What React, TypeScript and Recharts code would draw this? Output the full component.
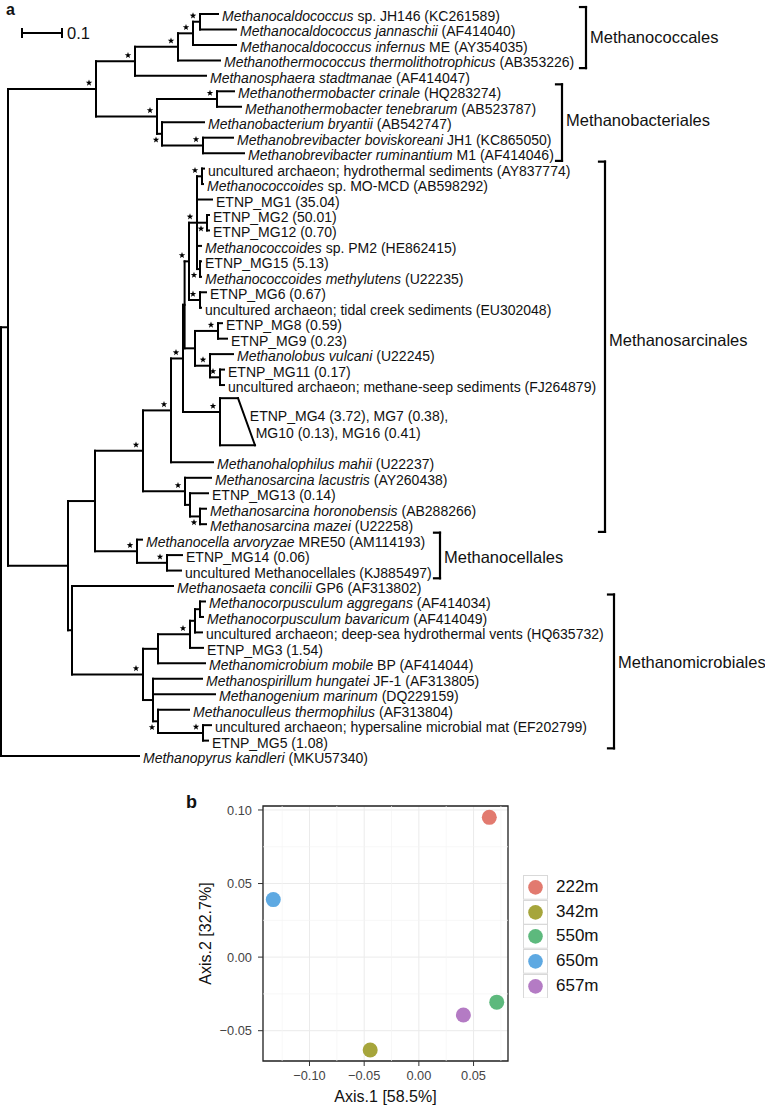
import React from 'react';
import {
  ScatterChart,
  Scatter,
  XAxis,
  YAxis,
  ReferenceLine,
  ReferenceArea,
  CartesianGrid,
  Legend,
} from 'recharts';

const FONT = '"Liberation Sans", Arial, Helvetica, sans-serif';

// ================= Panel a: phylogenetic tree =================
// Internal nodes: [id, parent, depth from root (substitutions / site)]
const TREE_NODES: [string, string | null, number][] = [
  ['R', null, 0],
  ['N1', 'R', 0.0175],
  ['N2', 'N1', 0.2375],
  ['N3', 'N2', 0.335],
  ['N4', 'N3', 0.4425],
  ['N5', 'N4', 0.48],
  ['N6', 'N5', 0.4975],
  ['N8', 'N2', 0.39],
  ['N9', 'N8', 0.54],
  ['N10', 'N8', 0.4025],
  ['N11', 'N10', 0.505],
  ['NA', 'N1', 0.1675],
  ['NB', 'NA', 0.235],
  ['NC', 'NB', 0.355],
  ['ND', 'NC', 0.425],
  ['NE', 'ND', 0.455],
  ['NEu', 'NE', 0.459],
  ['NF', 'NEu', 0.47],
  ['NH', 'NF', 0.49],
  ['P1', 'NH', 0.5025],
  ['P2', 'NH', 0.515],
  ['P3', 'NH', 0.4975],
  ['NK', 'NF', 0.4975],
  ['NL', 'NEu', 0.485],
  ['Q', 'NL', 0.5425],
  ['NI', 'NL', 0.5225],
  ['NJ', 'NI', 0.5475],
  ['NM', 'NC', 0.46],
  ['NM2', 'NM', 0.4725],
  ['NM3', 'NM2', 0.4975],
  ['NO', 'NB', 0.34],
  ['NP', 'NO', 0.415],
  ['NC2', 'NA', 0.1775],
  ['NQ', 'NC2', 0.355],
  ['NR', 'NQ', 0.3925],
  ['NR2', 'NR', 0.4725],
  ['NR3', 'NR2', 0.485],
  ['NR4', 'NR3', 0.4975],
  ['NS', 'NQ', 0.38],
  ['NT', 'NS', 0.3925],
  ['NU', 'NT', 0.505],
];

// Leaves: [parent, tip depth, leaf row, italic part, plain part]
const TREE_LEAVES: [string, number, number, string, string][] = [
  ['N6', 0.5425, 0, 'Methanocaldococcus', ' sp. JH146 (KC261589)'],
  ['N6', 0.5875, 1, 'Methanocaldococcus jannaschii', ' (AF414040)'],
  ['N5', 0.5875, 2, 'Methanocaldococcus infernus', ' ME (AY354035)'],
  ['N4', 0.5475, 3, 'Methanothermococcus thermolithotrophicus', ' (AB353226)'],
  ['N3', 0.5125, 4, 'Methanosphaera stadtmanae', ' (AF414047)'],
  ['N9', 0.5825, 5, 'Methanothermobacter crinale', ' (HQ283274)'],
  ['N9', 0.6, 6, 'Methanothermobacter tenebrarum', ' (AB523787)'],
  ['N10', 0.5075, 7, 'Methanobacterium bryantii', ' (AB542747)'],
  ['N11', 0.58, 8, 'Methanobrevibacter boviskoreani', ' JH1 (KC865050)'],
  ['N11', 0.6075, 9, 'Methanobrevibacter ruminantium', ' M1 (AF414046)'],
  ['P1', 0.5075, 10, '', 'uncultured archaeon; hydrothermal sediments (AY837774)'],
  ['P1', 0.505, 11, 'Methanococcoides', ' sp. MO-MCD (AB598292)'],
  ['NH', 0.5275, 12, '', 'ETNP_MG1 (35.04)'],
  ['P2', 0.52, 13, '', 'ETNP_MG2 (50.01)'],
  ['P2', 0.52, 14, '', 'ETNP_MG12 (0.70)'],
  ['NH', 0.5, 15, 'Methanococcoides', ' sp. PM2 (HE862415)'],
  ['P3', 0.5, 16, '', 'ETNP_MG15 (5.13)'],
  ['P3', 0.5, 17, 'Methanococcoides methylutens', ' (U22235)'],
  ['NK', 0.5125, 18, '', 'ETNP_MG6 (0.67)'],
  ['NK', 0.5, 19, '', 'uncultured archaeon; tidal creek sediments (EU302048)'],
  ['Q', 0.5525, 20, '', 'ETNP_MG8 (0.59)'],
  ['Q', 0.565, 21, '', 'ETNP_MG9 (0.23)'],
  ['NI', 0.58, 22, 'Methanolobus vulcani', ' (U22245)'],
  ['NJ', 0.5575, 23, '', 'ETNP_MG11 (0.17)'],
  ['NJ', 0.5575, 24, '', 'uncultured archaeon; methane-seep sediments (FJ264879)'],
  ['ND', 0.53, 29, 'Methanohalophilus mahii', ' (U22237)'],
  ['NM', 0.525, 30, 'Methanosarcina lacustris', ' (AY260438)'],
  ['NM2', 0.5175, 31, '', 'ETNP_MG13 (0.14)'],
  ['NM3', 0.5125, 32, 'Methanosarcina horonobensis', ' (AB288266)'],
  ['NM3', 0.5125, 33, 'Methanosarcina mazei', ' (U22258)'],
  ['NO', 0.3525, 34, 'Methanocella arvoryzae', ' MRE50 (AM114193)'],
  ['NP', 0.4525, 35, '', 'ETNP_MG14 (0.06)'],
  ['NP', 0.45, 36, '', 'uncultured Methanocellales (KJ885497)'],
  ['NC2', 0.43, 37, 'Methanosaeta concilii', ' GP6 (AF313802)'],
  ['NR4', 0.51, 38, 'Methanocorpusculum aggregans', ' (AF414034)'],
  ['NR4', 0.505, 39, 'Methanocorpusculum bavaricum', ' (AF414049)'],
  ['NR3', 0.5025, 40, '', 'uncultured archaeon; deep-sea hydrothermal vents (HQ635732)'],
  ['NR2', 0.505, 41, '', 'ETNP_MG3 (1.54)'],
  ['NR', 0.51, 42, 'Methanomicrobium mobile', ' BP (AF414044)'],
  ['NS', 0.5025, 43, 'Methanospirillum hungatei', ' JF-1 (AF313805)'],
  ['NS', 0.535, 44, 'Methanogenium marinum', ' (DQ229159)'],
  ['NT', 0.47, 45, 'Methanoculleus thermophilus', ' (AF313804)'],
  ['NU', 0.525, 46, '', 'uncultured archaeon; hypersaline microbial mat (EF202799)'],
  ['NU', 0.5175, 47, '', 'ETNP_MG5 (1.08)'],
  ['R', 0.345, 48, 'Methanopyrus kandleri', ' (MKU57340)'],
];

// Collapsed clade (triangle)
const COLLAPSED_PARENT = 'NE';
const COLLAPSED_DEPTH = 0.5475;
const COLLAPSED_ROW = 25.75;
const COLLAPSED_ROWS: [number, number] = [24.85, 27.9];
const COLLAPSED_TIPS: [number, number] = [0.5925, 0.635];
const COLLAPSED_TEXT = ['ETNP_MG4 (3.72), MG7 (0.38),', 'MG10 (0.13), MG16 (0.41)'];
const COLLAPSED_TEXT_ROWS = [25.9, 26.95];

// Nodes with strong support (stars): [node, 'a' above / 'b' below]
const SUPPORTED_NODES: [string, 'a' | 'b'][] = [
  ['N2', 'a'], ['N3', 'a'], ['N4', 'a'], ['N5', 'a'], ['N6', 'a'],
  ['N8', 'a'], ['N9', 'a'], ['N10', 'b'], ['N11', 'a'],
  ['P1', 'a'], ['NH', 'a'], ['P2', 'b'], ['P3', 'b'], ['NK', 'a'], ['NF', 'a'],
  ['NE', 'a'], ['Q', 'a'], ['NI', 'a'], ['NJ', 'a'], ['T', 'a'],
  ['ND', 'a'], ['NC', 'a'], ['NM', 'a'], ['NM3', 'b'],
  ['NO', 'a'], ['NP', 'a'], ['NQ', 'a'], ['NR2', 'a'], ['NT', 'b'], ['NU', 'a'],
];

// Orders (brackets)
const CLADE_NAMES = ['Methanococcales', 'Methanobacteriales', 'Methanosarcinales', 'Methanocellales', 'Methanomicrobiales'];
const CLADE_ROWS: [number, number][] = [[0, 3], [5, 9], [10, 33], [34, 36], [38, 47]];
const CLADE_DEPTH = [1.4625, 1.4025, 1.51, 1.0975, 1.5325];
const CLADE_LABEL_ROWS = [1.49, 6.86, 21.09, 35.12, 41.91];

const SCALE_BAR_START = 0.0525;
const SCALE_BAR_LENGTH = 0.1;
const SCALE_BAR_ROW = 1.23;

// ================= Panel b: PCoA =================
const DEPTHS = ['222m', '342m', '550m', '650m', '657m'];
const AXIS1 = [0.0644, -0.0445, 0.0712, -0.1331, 0.0407];
const AXIS2 = [0.095, -0.0631, -0.0306, 0.0391, -0.0393];
const DEPTH_COLORS = ['#E27A6F', '#A6A53B', '#5DB97D', '#5EA9E2', '#B47BC4'];
const X_TICKS = [-0.1, -0.05, 0, 0.05];
const Y_TICKS = [-0.05, 0, 0.05, 0.1];
const X_MINOR = [-0.125, -0.075, -0.025, 0.025, 0.075];
const Y_MINOR = [-0.025, 0.025, 0.075];
const X_DOMAIN: [number, number] = [-0.1425, 0.0815];
const Y_DOMAIN: [number, number] = [-0.0706, 0.1027];

// ---------- layout constants ----------
const TREE_W = 765;
const TREE_H = 780;
const PX_PER_UNIT = 400;
const ROOT_PX = 1;
const ROW_PX = 15.46;
const ROW0_PX = 14;
const TREE_X_DOMAIN: [number, number] = [-ROOT_PX / PX_PER_UNIT, (TREE_W - ROOT_PX) / PX_PER_UNIT];
const TREE_Y_DOMAIN: [number, number] = [-ROW0_PX / ROW_PX, (TREE_H - ROW0_PX) / ROW_PX];
const U = (px: number) => px / PX_PER_UNIT;
const R = (px: number) => px / ROW_PX;

// ---------- build tree geometry ----------
type TNode = { id: string; parent: string | null; depth: number; y?: number; children: string[] };
const nodeMap = new Map<string, TNode>();
TREE_NODES.forEach(([id, parent, depth]) => nodeMap.set(id, { id, parent, depth, children: [] }));
TREE_LEAVES.forEach(([parent, depth, row], i) =>
  nodeMap.set('L' + i, { id: 'L' + i, parent, depth, y: row, children: [] })
);
nodeMap.set('T', { id: 'T', parent: COLLAPSED_PARENT, depth: COLLAPSED_DEPTH, y: COLLAPSED_ROW, children: [] });
nodeMap.forEach((n) => {
  if (n.parent) nodeMap.get(n.parent)!.children.push(n.id);
});
const yOf = (id: string): number => {
  const n = nodeMap.get(id)!;
  if (n.y !== undefined) return n.y;
  const ys = n.children.map(yOf);
  n.y = (Math.min(...ys) + Math.max(...ys)) / 2;
  return n.y;
};
yOf('R');

type Seg = { x1: number; y1: number; x2: number; y2: number; w: number };
const treeSegs: Seg[] = [];
nodeMap.forEach((n) => {
  if (n.parent) {
    const p = nodeMap.get(n.parent)!;
    treeSegs.push({ x1: p.depth, y1: n.y!, x2: n.depth, y2: n.y!, w: 2 });
  }
  if (n.children.length) {
    const ys = n.children.map((c) => nodeMap.get(c)!.y!);
    treeSegs.push({ x1: n.depth, y1: Math.min(...ys), x2: n.depth, y2: Math.max(...ys), w: 2 });
  }
});
// collapsed triangle outline
const [tTop, tBot] = COLLAPSED_ROWS;
const [tipTop, tipBot] = COLLAPSED_TIPS;
treeSegs.push({ x1: COLLAPSED_DEPTH, y1: tTop, x2: COLLAPSED_DEPTH, y2: tBot, w: 2 });
treeSegs.push({ x1: COLLAPSED_DEPTH, y1: tTop, x2: tipTop, y2: tTop, w: 2 });
treeSegs.push({ x1: tipTop, y1: tTop, x2: tipBot, y2: tBot, w: 2 });
treeSegs.push({ x1: COLLAPSED_DEPTH, y1: tBot, x2: tipBot, y2: tBot, w: 2 });
// order brackets
CLADE_ROWS.forEach(([a, b], i) => {
  const x = CLADE_DEPTH[i];
  const top = a - 0.45;
  const bot = b + 0.5;
  treeSegs.push({ x1: x, y1: top, x2: x, y2: bot, w: 2.2 });
  treeSegs.push({ x1: x - U(6), y1: top, x2: x, y2: top, w: 2.2 });
  treeSegs.push({ x1: x - U(6), y1: bot, x2: x, y2: bot, w: 2.2 });
});
// scale bar
treeSegs.push({ x1: SCALE_BAR_START, y1: SCALE_BAR_ROW, x2: SCALE_BAR_START + SCALE_BAR_LENGTH, y2: SCALE_BAR_ROW, w: 2 });
treeSegs.push({ x1: SCALE_BAR_START, y1: SCALE_BAR_ROW - R(4), x2: SCALE_BAR_START, y2: SCALE_BAR_ROW + R(4), w: 2 });
treeSegs.push({
  x1: SCALE_BAR_START + SCALE_BAR_LENGTH, y1: SCALE_BAR_ROW - R(4),
  x2: SCALE_BAR_START + SCALE_BAR_LENGTH, y2: SCALE_BAR_ROW + R(4), w: 2,
});

const leafLabelData = TREE_LEAVES.map(([, depth, row, it, nm]) => ({ x: depth, y: row, it, nm }));
const starData = SUPPORTED_NODES.map(([id, pos]) => {
  const n = nodeMap.get(id)!;
  return { x: n.depth, y: n.y!, pos };
});
const textData: any[] = [];
CLADE_NAMES.forEach((name, i) =>
  textData.push({ x: CLADE_DEPTH[i], y: CLADE_LABEL_ROWS[i], text: name, dx: 4, dy: 5.8, fs: 16.5 })
);
COLLAPSED_TEXT.forEach((t, i) => {
  const r = COLLAPSED_TEXT_ROWS[i];
  const f = (r - tTop) / (tBot - tTop);
  textData.push({ x: tipTop + f * (tipBot - tipTop), y: r, text: t, dx: 6, dy: 7, fs: 14 });
});
textData.push({
  x: SCALE_BAR_START + SCALE_BAR_LENGTH, y: SCALE_BAR_ROW, text: String(SCALE_BAR_LENGTH), dx: 5, dy: 5.8, fs: 16.5,
});

const starPoints = (cx: number, cy: number, ro = 3.4, ri = 1.4) => {
  const pts: string[] = [];
  for (let k = 0; k < 10; k++) {
    const a = -Math.PI / 2 + (k * Math.PI) / 5;
    const r = k % 2 === 0 ? ro : ri;
    pts.push(`${(cx + r * Math.cos(a)).toFixed(2)},${(cy + r * Math.sin(a)).toFixed(2)}`);
  }
  return pts.join(' ');
};

const StarShape = (p: any) => {
  const pos = p.payload.pos;
  const dx = pos === 'a' ? -7 : -6;
  const dy = pos === 'a' ? -6 : 6;
  return <polygon points={starPoints(p.cx + dx, p.cy + dy)} fill="#000" />;
};

const LeafLabel = (p: any) => {
  const d = p.payload;
  return (
    <text x={p.cx + 4} y={p.cy + 7} fontSize={14} fontFamily={FONT} fill="#111">
      {d.it ? <tspan fontStyle="italic">{d.it}</tspan> : null}
      {d.nm ? <tspan>{d.nm}</tspan> : null}
    </text>
  );
};

const TextShape = (p: any) => {
  const d = p.payload;
  return (
    <text x={p.cx + d.dx} y={p.cy + d.dy} fontSize={d.fs} fontFamily={FONT} fill="#111">
      {d.text}
    </text>
  );
};

// ---------- PCoA helpers ----------
const fmt = (v: number) => (v < 0 ? '\u2212' : '') + Math.abs(v).toFixed(2);

const DotShape = (p: any) => <circle cx={p.cx} cy={p.cy} r={7.5} fill={p.fill} />;

const renderLegend = (props: any) => {
  const payload = props.payload || [];
  return (
    <div style={{ fontFamily: FONT }}>
      {payload.map((e: any, i: number) => (
        <div key={i} style={{ display: 'flex', alignItems: 'center', height: 24.7 }}>
          <svg width={25} height={24.7} style={{ display: 'block' }}>
            <rect x={0.5} y={0.5} width={24} height={23.7} fill="#fff" stroke="#d9d9d9" strokeWidth={1} />
            <circle cx={12.5} cy={12.35} r={7.3} fill={e.color} />
          </svg>
          <span style={{ marginLeft: 8, fontSize: 17, color: '#111', lineHeight: '24.7px' }}>{e.value}</span>
        </div>
      ))}
    </div>
  );
};

const XTitle = (p: any) => {
  const vb = p.viewBox;
  return (
    <text x={vb.x + vb.width / 2} y={vb.y + 41} textAnchor="middle" fontSize={16} fontFamily={FONT} fill="#111">
      Axis.1 [58.5%]
    </text>
  );
};

const YTitle = (p: any) => {
  const vb = p.viewBox;
  const x = vb.x + 7.5;
  const y = vb.y + vb.height / 2;
  return (
    <text x={x} y={y} transform={`rotate(-90 ${x} ${y})`} textAnchor="middle" fontSize={16} fontFamily={FONT} fill="#111">
      Axis.2 [32.7%]
    </text>
  );
};

export default function App() {
  return (
    <div style={{ position: 'absolute', left: 0, top: 0, width: 765, height: 1106, background: '#fff', fontFamily: FONT }}>
      <div style={{ position: 'absolute', left: 0, top: 0 }}>
        <ScatterChart width={TREE_W} height={TREE_H} margin={{ top: 0, right: 0, bottom: 0, left: 0 }}>
          <XAxis type="number" dataKey="x" domain={TREE_X_DOMAIN} hide />
          <YAxis type="number" dataKey="y" domain={TREE_Y_DOMAIN} reversed hide />
          {treeSegs.map((s, i) => (
            <ReferenceLine
              key={'s' + i}
              segment={[{ x: s.x1, y: s.y1 }, { x: s.x2, y: s.y2 }]}
              stroke="#000"
              strokeWidth={s.w}
              strokeLinecap="square"
              ifOverflow="visible"
            />
          ))}
          <Scatter data={leafLabelData} shape={LeafLabel} isAnimationActive={false} />
          <Scatter data={starData} shape={StarShape} isAnimationActive={false} />
          <Scatter data={textData} shape={TextShape} isAnimationActive={false} />
        </ScatterChart>
      </div>

      <div style={{ position: 'absolute', left: 0, top: 780 }}>
        <ScatterChart width={765} height={326} margin={{ top: 26, right: 257, bottom: 15, left: 203 }}>
          <CartesianGrid stroke="#ebebeb" strokeWidth={1} />
          {X_MINOR.map((v) => (
            <ReferenceLine key={'xm' + v} x={v} stroke="#f4f4f4" strokeWidth={0.7} />
          ))}
          {Y_MINOR.map((v) => (
            <ReferenceLine key={'ym' + v} y={v} stroke="#f4f4f4" strokeWidth={0.7} />
          ))}
          <XAxis
            type="number"
            dataKey="x"
            domain={X_DOMAIN}
            allowDataOverflow
            ticks={X_TICKS}
            interval={0}
            tickFormatter={fmt}
            axisLine={false}
            tickSize={5}
            tickMargin={5}
            height={30}
            tickLine={{ stroke: '#333' }}
            tick={{ fontSize: 12.8, fill: '#444', fontFamily: FONT }}
            label={{ value: 'Axis.1 [58.5%]', content: XTitle }}
          />
          <YAxis
            type="number"
            dataKey="y"
            domain={Y_DOMAIN}
            allowDataOverflow
            ticks={Y_TICKS}
            interval={0}
            tickFormatter={fmt}
            axisLine={false}
            tickSize={5}
            tickMargin={6}
            width={60}
            tickLine={{ stroke: '#333' }}
            tick={{ fontSize: 12.8, fill: '#444', fontFamily: FONT }}
            label={{ value: 'Axis.2 [32.7%]', content: YTitle }}
          />
          <ReferenceArea
            x1={X_DOMAIN[0]}
            x2={X_DOMAIN[1]}
            y1={Y_DOMAIN[0]}
            y2={Y_DOMAIN[1]}
            fill="none"
            fillOpacity={0}
            stroke="#222"
            strokeWidth={1.3}
            ifOverflow="visible"
          />
          {DEPTHS.map((d, i) => (
            <Scatter
              key={d}
              name={d}
              data={[{ x: AXIS1[i], y: AXIS2[i] }]}
              fill={DEPTH_COLORS[i]}
              shape={DotShape}
              isAnimationActive={false}
            />
          ))}
          <Legend
            layout="vertical"
            align="center"
            verticalAlign="middle"
            content={renderLegend}
            wrapperStyle={{ left: 523, top: 95, width: 110 }}
          />
        </ScatterChart>
      </div>

      <svg width={765} height={1106} style={{ position: 'absolute', left: 0, top: 0, pointerEvents: 'none' }}>
        <text x={6} y={15} fontSize={16} fontWeight="bold" fontFamily={FONT} fill="#111">a</text>
        <text x={186} y={808} fontSize={18} fontWeight="bold" fontFamily={FONT} fill="#111">b</text>
      </svg>
    </div>
  );
}
